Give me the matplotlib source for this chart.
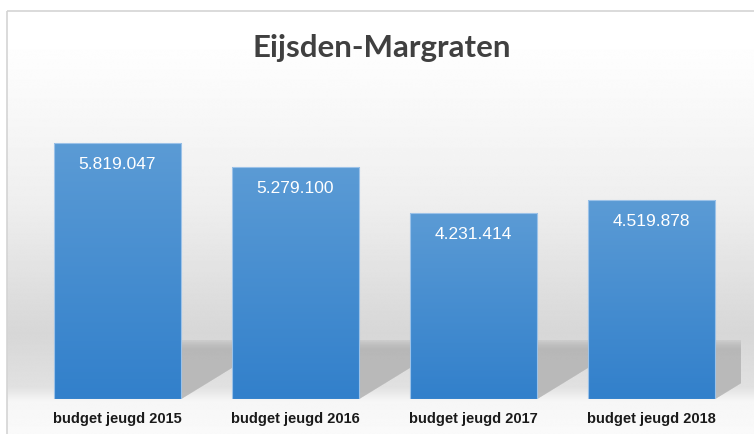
import numpy as np
import matplotlib.pyplot as plt
from matplotlib.patches import Rectangle, Polygon
from matplotlib.colors import LinearSegmentedColormap

# data
categories = ["budget jeugd 2015", "budget jeugd 2016", "budget jeugd 2017", "budget jeugd 2018"]
values = [5819047, 5279100, 4231414, 4519878]
value_labels = ["5.819.047", "5.279.100", "4.231.414", "4.519.878"]
title = "Eijsden-Margraten"

W, H = 754, 434
fig = plt.figure(figsize=(W / 100, H / 100), dpi=100)
fig.patch.set_facecolor("white")

# background chart area with soft vertical gradient
bg = fig.add_axes([0, 0, 1, 1], zorder=0)
bg.axis("off")
ys = np.array([0, 40, 200, 330, 385, 400, 434])
cs = np.array([255, 254, 238, 215, 225, 246, 250])
grad = np.interp(np.arange(H), ys, cs) / 255.0
bg.imshow(np.tile(grad[:, None], (1, W)), cmap="gray", vmin=0, vmax=1,
          extent=[7, W, H, 11], aspect="auto", interpolation="bilinear")
bg.add_patch(Rectangle((7, 11), W, H, fill=False, edgecolor="#d4d4d4", lw=1.2))
bg.set_xlim(0, W)
bg.set_ylim(H, 0)

# plot area
left_px, right_px = 28.5, 740.5
base_px, top_px = 399, 113
ax = fig.add_axes([left_px / W, (H - base_px) / H, (right_px - left_px) / W, (base_px - top_px) / H], zorder=1)
ax.patch.set_alpha(0)
x = np.arange(len(categories))
ymax = 6.5e6
for s in ax.spines.values():
    s.set_visible(False)
ax.set_yticks([])
ax.tick_params(axis="x", length=0, pad=9)
ax.set_xticks(x)
ax.set_xticklabels(categories, family=["Liberation Sans", "DejaVu Sans"],
                   fontweight="bold", fontsize=10.5, color="#1a1a1a")

bw = 0.715
shadow_h = 1.34e6
shadow_dx = 0.54
# cast shadows behind bars, soft top edge
for xi in x:
    for k in range(6):
        h = shadow_h - k * 0.04e6
        dx = shadow_dx * h / shadow_h
        poly = Polygon([(xi - bw / 2, 0), (xi + bw / 2, 0), (xi + bw / 2 + dx, h), (xi - bw / 2 + dx, h)],
                       closed=True, facecolor="#b4b4b4", edgecolor="none", alpha=0.25 if k else 0.35, zorder=1)
        ax.add_patch(poly)

bar_cmap = LinearSegmentedColormap.from_list("bars", ["#5b9bd5", "#3280cb"])
bars = ax.bar(x, values, width=bw, color="none", edgecolor="#9cc2e8", lw=0.8, zorder=3)
for b, lab in zip(bars, value_labels):
    bx, bwid, bh = b.get_x(), b.get_width(), b.get_height()
    im = ax.imshow(np.linspace(0, 1, 100)[:, None], cmap=bar_cmap, aspect="auto",
                   extent=[bx, bx + bwid, 0, bh], origin="upper", zorder=2, interpolation="bilinear")
    im.set_clip_path(b)
    ax.text(bx + bwid / 2, bh - 0.49e6, lab, ha="center", va="center", color="white",
            fontsize=12.5, family=["Liberation Sans", "DejaVu Sans"], zorder=4)
ax.set_xlim(-0.5, 3.5)
ax.set_ylim(0, ymax)

fig.text(382 / W, 1 - 48 / H, title, ha="center", va="center", fontsize=22.5,
         fontweight="bold", family=["Lato", "DejaVu Sans"], color="#404040")

fig.savefig("out.png", dpi=100)
